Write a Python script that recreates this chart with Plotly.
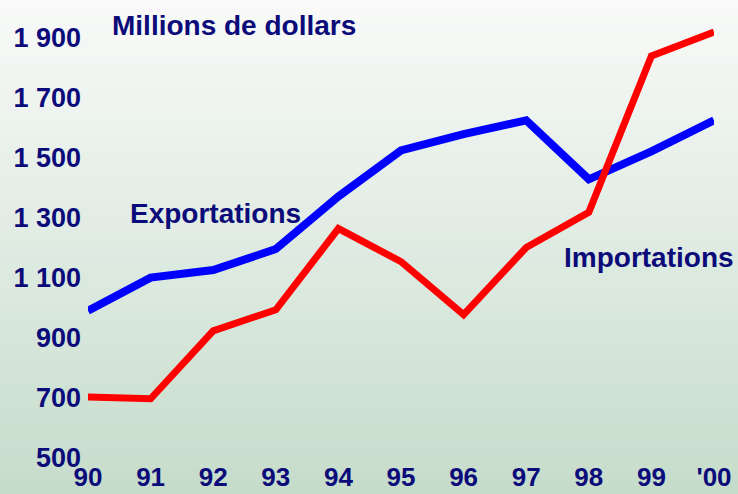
## Exportations / Importations, millions de dollars

import plotly.graph_objects as go

# Data
years = [90, 91, 92, 93, 94, 95, 96, 97, 98, 99, 100]
year_labels = ['90', '91', '92', '93', '94', '95', '96', '97', '98', '99', "'00"]
exportations = [990, 1100, 1125, 1195, 1370, 1523, 1577, 1623, 1427, 1520, 1623]
importations = [703, 697, 923, 993, 1263, 1153, 977, 1200, 1317, 1837, 1917]
y_ticks = [500, 700, 900, 1100, 1300, 1500, 1700, 1900]
y_tick_labels = ['500', '700', '900', '1 100', '1 300', '1 500', '1 700', '1 900']

navy = '#0b0b7a'
font_family = 'Liberation Sans, Arial, sans-serif'

fig = go.Figure()

fig.add_trace(go.Scatter(x=years, y=exportations, mode='lines', name='Exportations',
                         line=dict(color='#0000ff', width=8), cliponaxis=False))
fig.add_trace(go.Scatter(x=years, y=importations, mode='lines', name='Importations',
                         line=dict(color='#ff0000', width=7), cliponaxis=False))

# Background gradient (white at top to pale green at bottom) drawn as bands
top_rgb = (249, 250, 249)
bot_rgb = (198, 220, 203)
n_bands = 60
plot_h = 494 - 7 - 36
y_top = (458 - 0) / plot_h
y_bot = (458 - 494) / plot_h
shapes = []
for i in range(n_bands):
    t = i / (n_bands - 1)
    r = round(top_rgb[0] + (bot_rgb[0] - top_rgb[0]) * t)
    g = round(top_rgb[1] + (bot_rgb[1] - top_rgb[1]) * t)
    b = round(top_rgb[2] + (bot_rgb[2] - top_rgb[2]) * t)
    y1 = y_top - (y_top - y_bot) * i / n_bands
    y0 = y_top - (y_top - y_bot) * (i + 1) / n_bands
    shapes.append(dict(type='rect', xref='paper', yref='paper', x0=-0.2, x1=1.1,
                       y0=y0 - 0.002, y1=y1 + 0.002, fillcolor=f'rgb({r},{g},{b})',
                       line=dict(width=0), layer='below'))

fig.update_layout(
    width=738, height=494,
    margin=dict(l=88, r=24, t=7, b=36),
    paper_bgcolor='#c6dccb', plot_bgcolor='rgba(0,0,0,0)',
    showlegend=False,
    shapes=shapes,
    font=dict(family=font_family, size=28, color=navy),
)

fig.update_xaxes(range=[90, 100], tickvals=years, ticktext=year_labels,
                 showgrid=False, zeroline=False, showline=False, ticks='',
                 tickfont=dict(family=font_family, size=26, color=navy, weight='bold'),
                 ticklabelstandoff=1, automargin=False)
fig.update_yaxes(range=[500, 2000], tickvals=y_ticks, ticktext=y_tick_labels,
                 showgrid=False, zeroline=False, showline=False, ticks='',
                 tickfont=dict(family=font_family, size=27, color=navy, weight='bold'),
                 ticklabelstandoff=6, automargin=False)

label_font = dict(family=font_family, size=28, color=navy, weight='bold')
fig.add_annotation(text='Millions de dollars', x=90.35, y=1937, xref='x', yref='y',
                   xanchor='left', yanchor='middle', showarrow=False, font=label_font)
fig.add_annotation(text='Exportations', x=90.64, y=1313, xref='x', yref='y',
                   xanchor='left', yanchor='middle', showarrow=False, font=label_font)
fig.add_annotation(text='Importations', x=97.57, y=1167, xref='x', yref='y',
                   xanchor='left', yanchor='middle', showarrow=False, font=label_font)

# Make the page exactly the size of the figure (no body margin, no overflow)
page_fix = ("document.body.style.margin='0px';"
            "document.body.style.height='494px';"
            "document.body.style.overflow='hidden';"
            "document.documentElement.style.overflow='hidden';")
fig.write_html("out.html", config={'displayModeBar': False}, post_script=page_fix)
